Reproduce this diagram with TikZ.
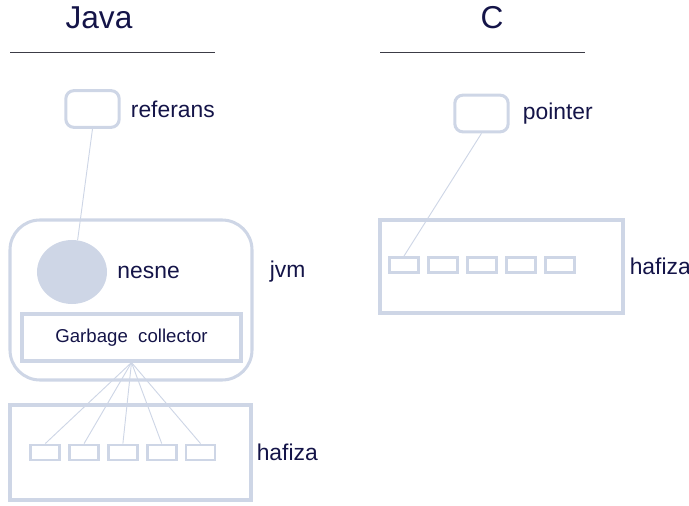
\documentclass[tikz,border=0pt]{standalone}
\usepackage{fontspec}
\setmainfont{Liberation Sans}
\usetikzlibrary{positioning,shapes.geometric}
\definecolor{boxgray}{RGB}{206,214,230}
\definecolor{inkblue}{RGB}{20,20,72}
\definecolor{rulegray}{RGB}{60,60,70}

\begin{document}
\begin{tikzpicture}[x=0.03cm, y=-0.03cm,
  every node/.style={text=inkblue},
  cellbox/.style={draw=boxgray,line width=2.5pt,minimum width=0.87cm,minimum height=0.45cm,inner sep=0pt},
  ptrbox/.style={draw=boxgray,line width=2.6pt,rounded corners=0.24cm,minimum width=1.6cm,minimum height=1.1cm,inner sep=0pt},
  membox/.style={draw=boxgray,line width=2.6pt,inner sep=0pt},
  tag/.style={font=\fontsize{19.5}{22}\selectfont,inner sep=0pt},
  heading/.style={font=\fontsize{27}{30}\selectfont,inner sep=0pt},
  wire/.style={draw=boxgray,line width=0.8pt}]
\useasboundingbox (0,0) rectangle (689,506);
% headings
\node[heading] (java) at (99,18) {Java};
\node[heading] (clang) at (492,18) {C};
\draw[rulegray,line width=0.8pt] (10,52) -- (215,52);
\draw[rulegray,line width=0.8pt] (380,52) -- (585,52);
% java side
\node[ptrbox] (ref) at (92.5,109) {};
\node[tag,right=0.3cm of ref] (reflabel) {referans};
\node[membox,rounded corners=0.9cm,minimum width=7.26cm,minimum height=4.8cm] (jvm) at (131,300) {};
\node[ellipse,fill=boxgray,minimum width=2.1cm,minimum height=1.92cm,inner sep=0pt] (nesne) at (72,272) {};
\node[tag,right=0.3cm of nesne] (nesnelabel) {nesne};
\node[tag,right=0.48cm of jvm.east|-nesne] (jvmlabel) {jvm};
\node[membox,minimum width=6.57cm,minimum height=1.41cm,font=\fontsize{15.9}{18}\selectfont] (gc) at (131.5,337.5) {Garbage\ \ collector};
\node[membox,minimum width=7.23cm,minimum height=2.85cm] (jmem) at (130.5,452.5) {};
\node[tag,right=0.12cm of jmem] (jmemlabel) {hafiza};
\foreach \i in {1,...,5}
  \node[cellbox] (jcell\i) at ({6.5+38.8*\i},452.5) {};
\draw[wire] (ref.south) -- (nesne.80);
\foreach \i in {1,...,5}
  \draw[wire] (gc.south) -- (jcell\i.north);
% c side
\node[ptrbox] (ptr) at (481.5,113.5) {};
\node[tag,right=0.39cm of ptr] (ptrlabel) {pointer};
\node[membox,minimum width=7.29cm,minimum height=2.79cm] (cmem) at (501.5,266.5) {};
\node[tag,right=0.15cm of cmem] (cmemlabel) {hafiza};
\foreach \i in {1,...,5}
  \node[cellbox] (ccell\i) at ({365+39*\i},265) {};
\draw[wire] (ptr.south) -- (ccell1.north);
\end{tikzpicture}
\end{document}
